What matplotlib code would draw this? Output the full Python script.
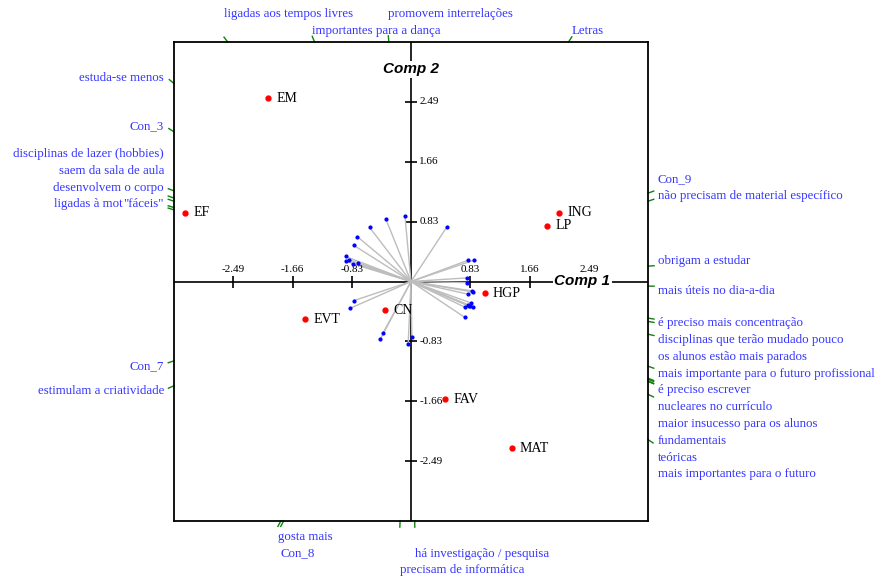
import matplotlib.pyplot as plt
import numpy as np

# ========= data =========
# objects (red points)
obj_names = ['EM', 'EF', 'ING', 'LP', 'HGP', 'CN', 'EVT', 'FAV', 'MAT']
obj_x = [-2.00, -3.17, 2.07, 1.91, 1.03, -0.37, -1.48, 0.48, 1.41]
obj_y = [2.54, 0.95, 0.95, 0.77, -0.16, -0.40, -0.52, -1.63, -2.31]

# attribute vectors (blue points)
var_names = [
    'ligadas aos tempos livres', 'importantes para a dança', 'promovem interrelações', 'Letras',
    'estuda-se menos', 'Con_3', 'disciplinas de lazer (hobbies)', 'saem da sala de aula',
    'desenvolvem o corpo', 'ligadas à motricidade', '"fáceis"',
    'Con_9', 'não precisam de material específico', 'obrigam a estudar', 'mais úteis no dia-a-dia',
    'é preciso mais concentração', 'disciplinas que terão mudado pouco', 'os alunos estão mais parados',
    'mais importante para o futuro profissional', 'é preciso escrever', 'nucleares no currículo',
    'maior insucesso para os alunos', 'fundamentais', 'teóricas', 'mais importantes para o futuro',
    'Con_7', 'estimulam a criatividade', 'gosta mais', 'Con_8',
    'há investigação / pesquisa', 'precisam de informática',
]
var_x = [-0.58, -0.35, -0.085, 0.505,
         -0.75, -0.80, -0.917, -0.87,
         -0.749, -0.917, -0.819,
         0.80, 0.88, 0.78, 0.785,
         0.85, 0.87, 0.80,
         0.84, 0.80, 0.87,
         0.83, 0.815, 0.76, 0.75,
         -0.80, -0.85, -0.39, -0.43,
         0.012, -0.04]
var_y = [0.75, 0.86, 0.91, 0.76,
         0.62, 0.50, 0.347, 0.303,
         0.251, 0.283, 0.245,
         0.295, 0.295, 0.05, -0.015,
         -0.13, -0.145, -0.176,
         -0.297, -0.323, -0.355,
         -0.345, -0.34, -0.358, -0.495,
         -0.265, -0.37, -0.71, -0.80,
         -0.77, -0.87]

ticks = [-2.49, -1.66, -0.83, 0.83, 1.66, 2.49]
tick_labels = ['-2.49', '-1.66', '-0.83', '0.83', '1.66', '2.49']
lim = 3.32

# layout of the labels above / below the frame (row index)
rows = {'ligadas aos tempos livres': 1, 'importantes para a dança': 0,
        'promovem interrelações': 1, 'Letras': 0,
        'gosta mais': 0, 'Con_8': 1, 'há investigação / pesquisa': 1,
        'precisam de informática': 2}
overlap = {'ligadas à motricidade'}  # printed in the same slot as the previous label

serif = 'Liberation Serif'
blue = '#3535ff'
green = '#108010'
fs = 9.3

fig = plt.figure(figsize=(8.88, 5.81), dpi=100)
ax = fig.add_axes([174 / 888, 60 / 581, 474 / 888, 479 / 581])
ax.set_xlim(-lim, lim)
ax.set_ylim(-lim, lim)
ax.set_xticks([])
ax.set_yticks([])
for s in ax.spines.values():
    s.set_linewidth(1.3)

# axes through the origin
ax.axhline(0, color='black', lw=1.2, zorder=1)
ax.axvline(0, color='black', lw=1.2, zorder=1)
ax.plot(ticks, [0] * len(ticks), ls='none', marker='|', ms=9, mew=1.2, color='black')
ax.plot([0] * len(ticks), ticks, ls='none', marker='_', ms=9, mew=1.2, color='black')
for t, tl in zip(ticks, tick_labels):
    ax.annotate(tl, (t, 0), xytext=(0, 8.5), textcoords='offset points',
                ha='center', va='center', fontsize=8, family=serif)
    ax.annotate(tl, (0, t), xytext=(6, 0), textcoords='offset points',
                ha='left', va='center', fontsize=8, family=serif)

wb = dict(facecolor='white', edgecolor='none', pad=1)
ax.text(2.40, 0, 'Comp 1', ha='center', va='center', fontsize=11, family='Liberation Sans',
        weight='bold', style='italic', bbox=wb, zorder=5)
ax.text(0, 2.94, 'Comp 2', ha='center', va='center', fontsize=11, family='Liberation Sans',
        weight='bold', style='italic', bbox=wb, zorder=5)

# vectors
for vx, vy in zip(var_x, var_y):
    ax.plot([0, vx], [0, vy], color='#bdbdbd', lw=1, zorder=2)
ax.plot(var_x, var_y, 'o', color='blue', ms=2, zorder=3)

# objects
ax.plot(obj_x, obj_y, 'o', color='red', ms=3.5, zorder=4)
for n, x, y in zip(obj_names, obj_x, obj_y):
    ax.annotate(n, (x, y), xytext=(6, 0), textcoords='offset points',
                ha='left', va='center', fontsize=10, family=serif)

# green marks where each direction leaves the frame
tick_len = 0.085
hits = []
for name, vx, vy in zip(var_names, var_x, var_y):
    t = lim / max(abs(vx), abs(vy))
    hx, hy = vx * t, vy * t
    r = np.hypot(vx, vy)
    ex, ey = hx + vx / r * tick_len, hy + vy / r * tick_len
    ax.plot([hx, ex], [hy, ey], color=green, lw=1, clip_on=False)
    if abs(vx) >= abs(vy):
        side = 'right' if vx > 0 else 'left'
    else:
        side = 'top' if vy > 0 else 'bottom'
    hits.append((name, side, hy, ex))

# side labels, pushed away from the horizontal axis so they do not collide
sp = 16.8 / 72.1
off_up, off_dn = 0.075, 0.07
for side in ['left', 'right']:
    xs = -lim - 0.14 if side == 'left' else lim + 0.14
    ha = 'right' if side == 'left' else 'left'
    items = [h for h in hits if h[1] == side]
    up = sorted([h for h in items if h[2] >= 0], key=lambda h: h[2])
    dn = sorted([h for h in items if h[2] < 0], key=lambda h: -h[2])
    for group, sign in [(up, 1), (dn, -1)]:
        prev = None
        for name, _, hy, _ in group:
            y = hy + (off_up if sign > 0 else -off_dn)
            if prev is not None:
                if name in overlap:
                    y = prev
                else:
                    y = max(y, prev + sp) if sign > 0 else min(y, prev - sp)
            prev = y
            ax.text(xs, y, name, ha=ha, va='center', fontsize=fs, family=serif, color=blue,
                    bbox=dict(facecolor='white', edgecolor='none', pad=0.3),
                    zorder=3 if name in overlap else 4, clip_on=False)

# labels above and below the frame
for name, side, hy, ex in hits:
    if side == 'top':
        y = lim + (11 + 17 * rows[name]) / 72.1
    elif side == 'bottom':
        y = -lim - (16 + 16.5 * rows[name]) / 72.1
    else:
        continue
    ax.text(ex, y, name, ha='left', va='center', fontsize=fs, family=serif, color=blue,
            clip_on=False)

plt.savefig('out.png', dpi=100)
